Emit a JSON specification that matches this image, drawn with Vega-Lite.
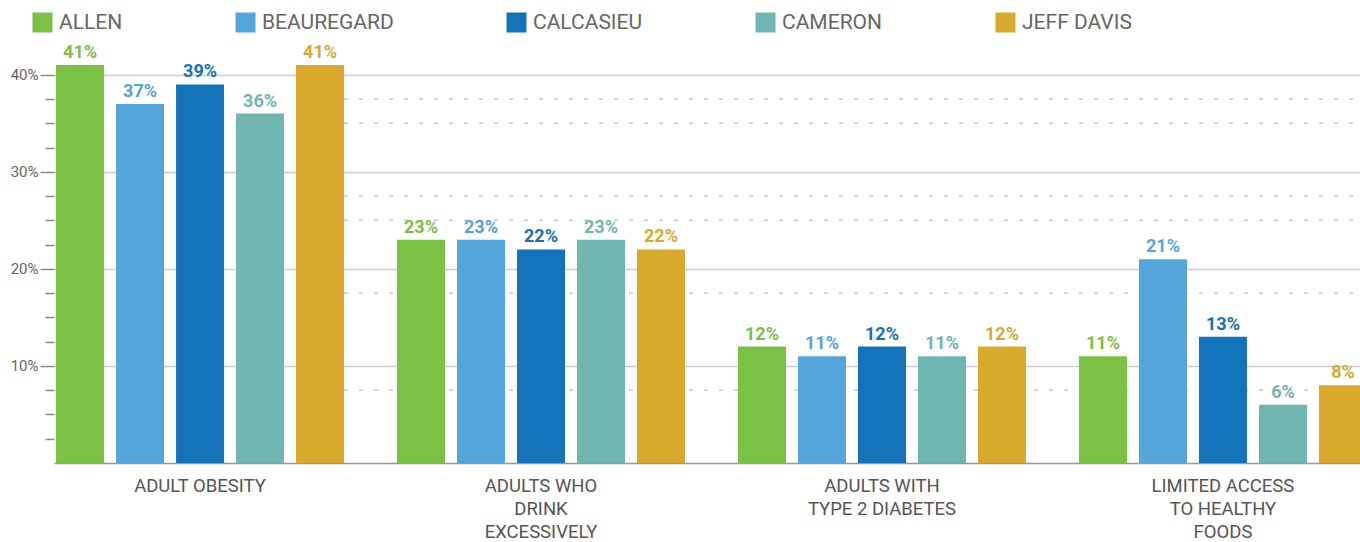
{
  "$schema": "https://vega.github.io/schema/vega-lite/v6.json",
  "width": 1306,
  "height": 461,
  "autosize": {"type": "none"},
  "padding": {"left": 54, "top": 2, "right": 0, "bottom": 79},
  "background": "white",
  "config": {
    "view": {"stroke": null},
    "font": "Roboto"
  },
  "datasets": {
    "bars": [
      {"measure": "ADULT OBESITY", "county": "ALLEN", "value": 0.41},
      {"measure": "ADULT OBESITY", "county": "BEAUREGARD", "value": 0.37},
      {"measure": "ADULT OBESITY", "county": "CALCASIEU", "value": 0.39},
      {"measure": "ADULT OBESITY", "county": "CAMERON", "value": 0.36},
      {"measure": "ADULT OBESITY", "county": "JEFF DAVIS", "value": 0.41},
      {"measure": "ADULTS WHO|DRINK|EXCESSIVELY", "county": "ALLEN", "value": 0.23},
      {"measure": "ADULTS WHO|DRINK|EXCESSIVELY", "county": "BEAUREGARD", "value": 0.23},
      {"measure": "ADULTS WHO|DRINK|EXCESSIVELY", "county": "CALCASIEU", "value": 0.22},
      {"measure": "ADULTS WHO|DRINK|EXCESSIVELY", "county": "CAMERON", "value": 0.23},
      {"measure": "ADULTS WHO|DRINK|EXCESSIVELY", "county": "JEFF DAVIS", "value": 0.22},
      {"measure": "ADULTS WITH|TYPE 2 DIABETES", "county": "ALLEN", "value": 0.12},
      {"measure": "ADULTS WITH|TYPE 2 DIABETES", "county": "BEAUREGARD", "value": 0.11},
      {"measure": "ADULTS WITH|TYPE 2 DIABETES", "county": "CALCASIEU", "value": 0.12},
      {"measure": "ADULTS WITH|TYPE 2 DIABETES", "county": "CAMERON", "value": 0.11},
      {"measure": "ADULTS WITH|TYPE 2 DIABETES", "county": "JEFF DAVIS", "value": 0.12},
      {"measure": "LIMITED ACCESS|TO HEALTHY|FOODS", "county": "ALLEN", "value": 0.11},
      {"measure": "LIMITED ACCESS|TO HEALTHY|FOODS", "county": "BEAUREGARD", "value": 0.21},
      {"measure": "LIMITED ACCESS|TO HEALTHY|FOODS", "county": "CALCASIEU", "value": 0.13},
      {"measure": "LIMITED ACCESS|TO HEALTHY|FOODS", "county": "CAMERON", "value": 0.06},
      {"measure": "LIMITED ACCESS|TO HEALTHY|FOODS", "county": "JEFF DAVIS", "value": 0.08}
    ],
    "grid": [
      {"level": 0.375, "from": "ADULT OBESITY", "to": "LIMITED ACCESS|TO HEALTHY|FOODS"},
      {"level": 0.35, "from": "ADULT OBESITY", "to": "LIMITED ACCESS|TO HEALTHY|FOODS"},
      {"level": 0.275, "from": "ADULT OBESITY", "to": "LIMITED ACCESS|TO HEALTHY|FOODS"},
      {"level": 0.25, "from": "ADULT OBESITY", "to": "LIMITED ACCESS|TO HEALTHY|FOODS"},
      {"level": 0.175, "from": "ADULT OBESITY", "to": "LIMITED ACCESS|TO HEALTHY|FOODS"},
      {"level": 0.075, "from": "ADULT OBESITY", "to": "LIMITED ACCESS|TO HEALTHY|FOODS"}
    ]
  },
  "layer": [
    {
      "data": {"name": "grid"},
      "mark": {"type": "rule", "color": "#c8c8c8", "strokeWidth": 1.5, "strokeDash": [4, 11]},
      "encoding": {
        "x": {"field": "from", "type": "nominal", "bandPosition": 1},
        "x2": {"field": "to", "bandPosition": 1},
        "y": {"field": "level", "type": "quantitative"}
      }
    },
    {
      "data": {"name": "bars"},
      "mark": {"type": "bar"},
      "encoding": {
        "x": {
          "field": "measure", "type": "nominal", "title": null,
          "scale": {
            "domain": ["ADULT OBESITY", "ADULTS WHO|DRINK|EXCESSIVELY", "ADULTS WITH|TYPE 2 DIABETES", "LIMITED ACCESS|TO HEALTHY|FOODS"],
            "range": [0, 1315],
            "paddingInner": 0.1554, "paddingOuter": 0.006
          },
          "axis": {
            "labelExpr": "split(datum.label, '|')",
            "labelAngle": 0, "labelAlign": "center", "ticks": false, "domainColor": "#999", "domainWidth": 1.5,
            "labelFontSize": 18.5, "labelColor": "#555", "labelLineHeight": 23,
            "labelPadding": 13, "labelLimit": 400, "labelBaseline": "top"
          }
        },
        "xOffset": {
          "field": "county", "type": "nominal",
          "scale": {"paddingInner": 0.2, "paddingOuter": 0}
        },
        "y": {
          "field": "value", "type": "quantitative", "title": null,
          "scale": {"domain": [0, 0.475], "nice": false},
          "axis": {
            "values": [0.025, 0.05, 0.075, 0.1, 0.125, 0.15, 0.175, 0.2, 0.225, 0.25, 0.275, 0.3, 0.325, 0.35, 0.375, 0.4],
            "tickCount": 40,
            "labelOverlap": false,
            "labelExpr": "round(datum.value*40) % 4 == 0 ? format(datum.value, '.0%') : ''",
            "domain": false,
            "tickSize": {"condition": {"test": "round(datum.value*40) % 4 == 0", "value": 14}, "value": 9},
            "tickColor": "#888", "tickWidth": 1.5,
            "gridOpacity": {"condition": {"test": "round(datum.value*40) % 4 == 0", "value": 1}, "value": 0},
            "gridColor": "#cccccc", "gridWidth": 1.5,
            "labelFontSize": 15, "labelColor": "#666", "labelPadding": 2
          }
        },
        "color": {
          "field": "county", "type": "nominal",
          "scale": {
            "domain": ["ALLEN", "BEAUREGARD", "CALCASIEU", "CAMERON", "JEFF DAVIS"],
            "range": ["#7bc144", "#55a5dd", "#1273ba", "#6fb6b1", "#d8aa2b"]
          },
          "legend": {
            "title": null, "orient": "none", "direction": "horizontal", "columns": 5,
            "legendX": -22, "legendY": 10, "padding": 0,
            "symbolType": "square", "symbolSize": 400, "symbolStrokeWidth": 0, "symbolOpacity": 1,
            "labelFontSize": 21, "labelColor": "#666", "labelOffset": 6, "labelLimit": 300,
            "columnPadding": 112, "gridAlign": "none"
          }
        }
      }
    },
    {
      "data": {"name": "bars"},
      "mark": {"type": "text", "baseline": "bottom", "dy": -3, "fontWeight": "bold", "fontSize": 18},
      "encoding": {
        "x": {"field": "measure", "type": "nominal"},
        "xOffset": {"field": "county", "type": "nominal"},
        "y": {"field": "value", "type": "quantitative"},
        "text": {"field": "value", "type": "quantitative", "format": ".0%"},
        "color": {"field": "county", "type": "nominal"}
      }
    }
  ]
}
